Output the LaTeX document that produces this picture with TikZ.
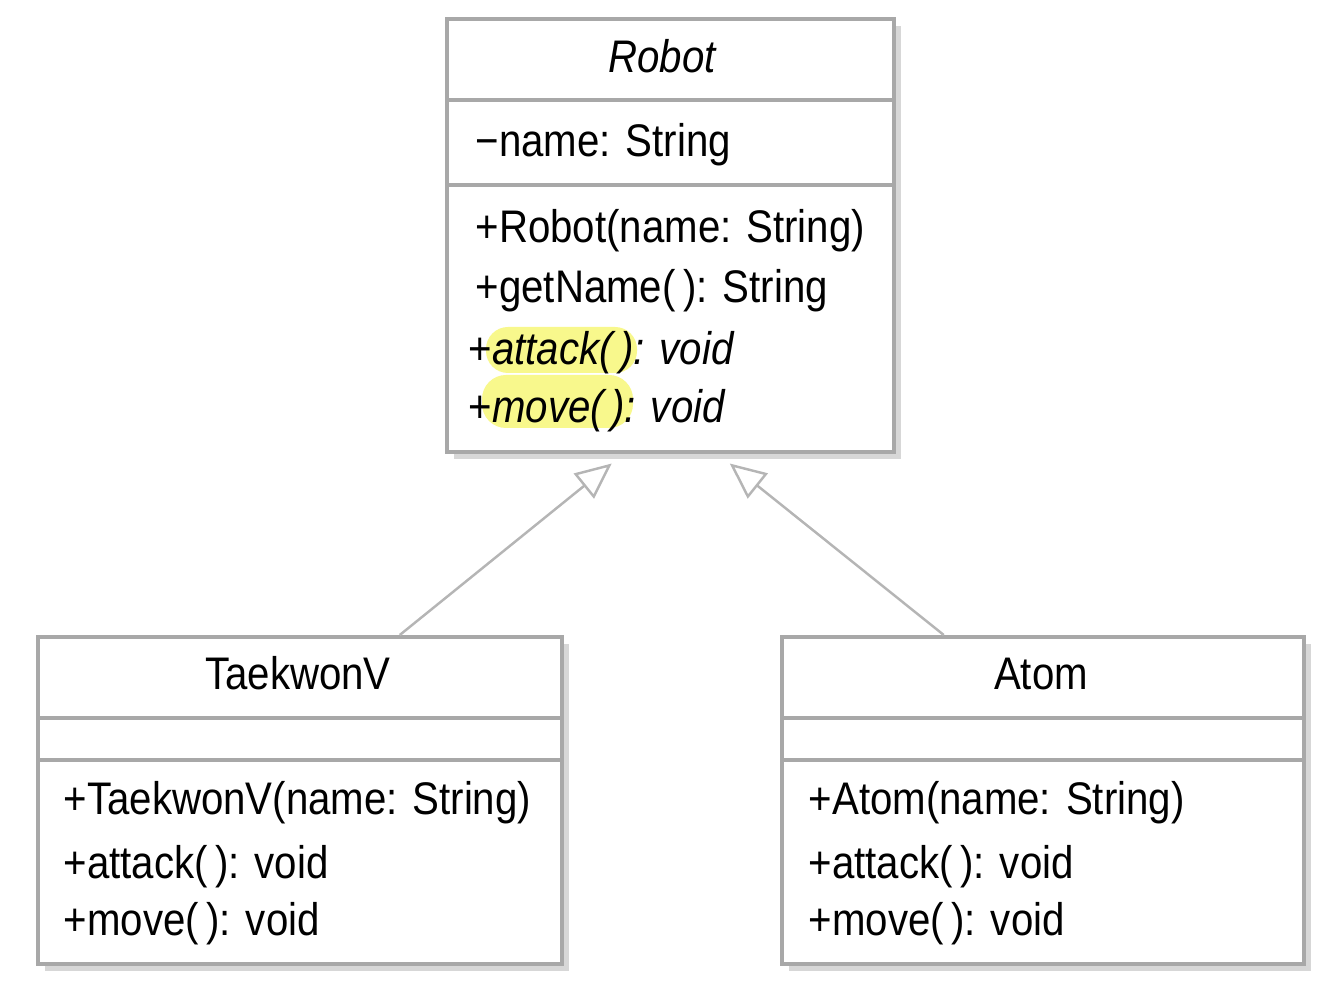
\documentclass[tikz,border=0pt]{standalone}
\usepackage{fontspec}
\setmainfont[FakeStretch=0.88]{Liberation Sans}
\usetikzlibrary{arrows.meta,shadows}

\definecolor{umlline}{RGB}{168,168,168}
\definecolor{umlshadow}{RGB}{215,215,215}
\definecolor{hilite}{RGB}{248,248,140}

\tikzset{
  classbox/.style={draw=umlline,fill=white,line width=1pt,inner sep=0pt,anchor=north west,
    drop shadow={shadow xshift=0.07cm,shadow yshift=-0.07cm,fill=umlshadow,opacity=1}},
  member/.style={anchor=base west,inner sep=0pt},
  title/.style={anchor=base,inner sep=0pt},
  inherit/.style={draw=umlline!85,line width=0.7pt,-{Triangle[open,length=0.36cm,width=0.32cm]}}
}

\begin{document}
\begin{tikzpicture}[font=\fontsize{13}{15}\selectfont]
\useasboundingbox (0,0) rectangle (13.34,-10);

% Robot
\node [classbox,minimum width=4.47cm,minimum height=4.33cm] (robot) at (4.45,-0.17) {};
\draw [umlline,line width=1pt] ([yshift=-0.83cm]robot.north west) -- ([yshift=-0.83cm]robot.north east);
\draw [umlline,line width=1pt] ([yshift=-1.68cm]robot.north west) -- ([yshift=-1.68cm]robot.north east);
\fill [hilite,rounded corners=0.22cm] (4.86,-3.27) rectangle (6.37,-3.73);
\fill [hilite,rounded corners=0.24cm] (4.82,-3.75) rectangle (6.33,-4.28);
\node [title] (robotname) at (6.62,-0.73) {\itshape Robot};
\node [member] (robotattr) at (4.75,-1.57) {−name: String};
\node [member] (robotctor) at (4.75,-2.43) {+Robot(name: String)};
\node [member] (robotget) at (4.75,-3.03) {+getName(\,): String};
\node [member] (robotatk) at (4.68,-3.65) {+\itshape attack(\,): void};
\node [member] (robotmove) at (4.68,-4.23) {+\itshape move(\,): void};

% TaekwonV
\node [classbox,minimum width=5.24cm,minimum height=3.27cm] (taekwonv) at (0.36,-6.35) {};
\draw [umlline,line width=1pt] ([yshift=-0.83cm]taekwonv.north west) -- ([yshift=-0.83cm]taekwonv.north east);
\draw [umlline,line width=1pt] ([yshift=-1.25cm]taekwonv.north west) -- ([yshift=-1.25cm]taekwonv.north east);
\node [title] (tvname) at (2.98,-6.90) {TaekwonV};
\node [member] (tvctor) at (0.63,-8.15) {+TaekwonV(name: String)};
\node [member] (tvatk) at (0.63,-8.78) {+attack(\,): void};
\node [member] (tvmove) at (0.63,-9.35) {+move(\,): void};

% Atom
\node [classbox,minimum width=5.22cm,minimum height=3.27cm] (atom) at (7.80,-6.35) {};
\draw [umlline,line width=1pt] ([yshift=-0.83cm]atom.north west) -- ([yshift=-0.83cm]atom.north east);
\draw [umlline,line width=1pt] ([yshift=-1.25cm]atom.north west) -- ([yshift=-1.25cm]atom.north east);
\node [title] (atomname) at (10.41,-6.90) {Atom};
\node [member] (atomctor) at (8.08,-8.15) {+Atom(name: String)};
\node [member] (atomatk) at (8.08,-8.78) {+attack(\,): void};
\node [member] (atommove) at (8.08,-9.35) {+move(\,): void};

% generalisation
\draw [inherit] ([xshift=1cm]taekwonv.north) -- ([xshift=-0.585cm,yshift=-0.1cm]robot.south);
\draw [inherit] ([xshift=-0.99cm]atom.north) -- ([xshift=0.595cm,yshift=-0.1cm]robot.south);
\end{tikzpicture}
\end{document}
